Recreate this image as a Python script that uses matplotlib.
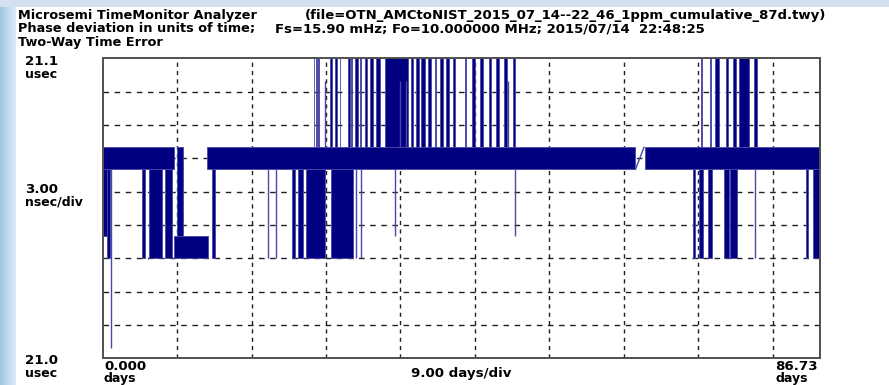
import numpy as np
import matplotlib.pyplot as plt

# time axis (days) and phase levels (ns above the 21.0 usec floor)
span_days = 86.73
band_hi, band_lo = 19.0, 17.0
top_level = 28.0
mid_level = 25.0
low_level = 11.0
floor_level = 9.0

# stretches where the trace toggles between band_lo and band_hi
band_segments = [(0.0, 8.61), (12.64, 64.42), (65.51, 86.73)]

# excursions from the band up to the top of the scale (start, end) in days
up_blocks = [(25.53, 25.60), (25.85, 25.92), (26.05, 26.12), (27.54, 27.78),
             (28.06, 28.34), (28.67, 28.74), (29.60, 29.87), (29.99, 30.20),
             (30.48, 30.88), (31.08, 31.29), (31.69, 31.96), (32.29, 32.69),
             (33.10, 33.50), (34.10, 36.92), (37.24, 37.52), (37.93, 38.25),
             (38.54, 38.93), (39.33, 39.74), (40.14, 40.35), (40.75, 41.15),
             (41.56, 41.87), (42.35, 42.64), (43.77, 43.97), (44.70, 44.98),
             (45.66, 45.98), (46.70, 46.99), (47.51, 47.91), (48.51, 48.90),
             (49.60, 49.80), (72.29, 72.45), (73.38, 73.58), (73.98, 74.50),
             (75.38, 75.58), (76.18, 76.59), (76.99, 78.20), (78.70, 79.10),
             (86.62, 86.70)]
# shorter upward spikes (day, level)
up_spikes = [(26.85, mid_level), (35.91, mid_level), (36.72, mid_level),
             (48.98, mid_level)]

# excursions from the band down to the 9 ns floor (start, end) in days
down_blocks = [(0.56, 0.88), (4.71, 5.11), (5.63, 7.13), (7.53, 8.34),
               (13.17, 13.57), (22.83, 23.23), (23.63, 24.23), (24.64, 26.85),
               (27.66, 30.27), (71.35, 71.67), (72.07, 72.64), (73.16, 73.64),
               (75.17, 75.78), (75.90, 76.71), (85.05, 85.24), (85.84, 86.65)]
down_spikes = [(0.95, 0.9), (19.93, floor_level), (20.90, floor_level),
               (30.60, floor_level), (31.29, floor_level), (35.31, low_level),
               (49.80, low_level), (78.86, floor_level)]
# partial drops to 11 ns
shallow_blocks = [(0.07, 0.48)]

# the dip near day 9: narrow column plus a block between 9 and 11 ns
dip_column = (9.01, 9.66, low_level, band_hi)
dip_block = (8.61, 12.76, floor_level, low_level)
ramp_days = [64.42, 65.45]
ramp_levels = [band_lo, band_hi]

navy = '#000080'
edge = '#4848a8'

W, H = 889, 385
fig = plt.figure(figsize=(W / 100, H / 100), dpi=100, facecolor='white')

# light blue window frame along the top and left
strip = fig.add_axes([0, 0, 16 / W, 1])
strip.imshow(np.linspace(0, 1, 16)[None, :], aspect='auto', cmap='Blues_r',
             vmin=-2.6, vmax=1.6, extent=[0, 1, 0, 1])
strip.axis('off')
top = fig.add_axes([0, 1 - 7 / H, 1, 7 / H])
top.set_facecolor('#d4e0ee')
top.set_xticks([])
top.set_yticks([])
for s in top.spines.values():
    s.set_visible(False)

ax = fig.add_axes([102.7 / W, (H - 358.3) / H, 717.3 / W, 300 / H])
ax.set_xlim(0, span_days)
ax.set_ylim(0, 27)


def block(x0, x1, lo, hi):
    ax.fill_between([x0, x1], lo, hi, color=navy, edgecolor=edge,
                    linewidth=0.6, zorder=3)


for x0, x1 in band_segments:
    block(x0, x1, band_lo, band_hi)
for x0, x1 in up_blocks:
    block(x0, x1, band_hi, top_level)
for x0, x1 in down_blocks:
    block(x0, x1, floor_level, band_lo)
for x0, x1 in shallow_blocks:
    block(x0, x1, low_level, band_lo)
block(*dip_column)
block(*dip_block)

ax.vlines([d for d, _ in up_spikes], band_hi, [v for _, v in up_spikes],
          color=edge, linewidth=1.0, zorder=3)
ax.vlines([d for d, _ in down_spikes], [v for _, v in down_spikes], band_lo,
          color=edge, linewidth=1.0, zorder=3)
ax.plot(ramp_days, ramp_levels, color=edge, linewidth=1.0, zorder=3)

# dashed graticule
for d in np.arange(9, span_days, 9):
    ax.axvline(d, color='#202020', linewidth=1.0, linestyle=(0, (3, 3)), zorder=1)
for v in np.arange(3, 27, 3):
    ax.axhline(v, color='#202020', linewidth=1.0, linestyle=(0, (4, 4)), zorder=1)

ax.set_xticks([])
ax.set_yticks([])
for s in ax.spines.values():
    s.set_color('#505050')
    s.set_linewidth(1.4)
    s.set_zorder(5)


def label(x, y, s, size=9.3, **kw):
    fig.text(x / W, 1 - y / H, s, fontsize=size, fontweight='bold',
             va='baseline', **kw)


label(18, 19, 'Microsemi TimeMonitor Analyzer')
label(305, 19, '(file=OTN_AMCtoNIST_2015_07_14--22_46_1ppm_cumulative_87d.twy)', size=9.5)
label(18, 32, 'Phase deviation in units of time;')
label(275, 32, 'Fs=15.90 mHz; Fo=10.000000 MHz; 2015/07/14  22:48:25', size=9.5)
label(18, 46, 'Two-Way Time Error')

label(25, 65, '21.1', size=9.6)
label(25, 78, 'usec', size=9)
label(25, 193, '3.00', size=9.6)
label(25, 206, 'nsec/div', size=9)
label(25, 364, '21.0', size=9.6)
label(25, 377, 'usec', size=9)
label(104, 370, '0.000', size=9.6)
label(104, 382, 'days', size=9)
label(461, 377, '9.00 days/div', size=9.6, ha='center')
label(775, 370, '86.73', size=9.6)
label(775, 382, 'days', size=9)

fig.savefig('out.png', dpi=100, facecolor='white')
